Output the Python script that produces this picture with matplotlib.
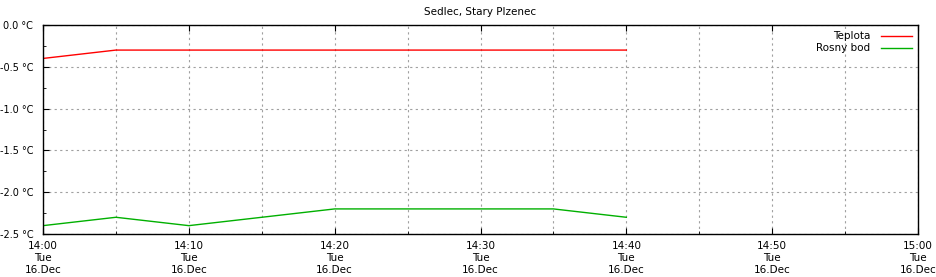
import matplotlib
matplotlib.use('Agg')
import matplotlib.pyplot as plt
import matplotlib.dates as mdates
import pandas as pd

############### DATA ###############
times = pd.date_range('2014-12-16 14:00', '2014-12-16 14:40', freq='5min')
teplota = [-0.4, -0.3, -0.3, -0.3, -0.3, -0.3, -0.3, -0.3, -0.3]
rosny_bod = [-2.4, -2.3, -2.4, -2.3, -2.2, -2.2, -2.2, -2.2, -2.3]
yticks = [0.0, -0.5, -1.0, -1.5, -2.0, -2.5]
ytick_labels = ['%.1f °C' % v for v in yticks]

############### PLOT ###############
fig = plt.figure(figsize=(9.36, 2.77), dpi=100)
ax = fig.add_axes([43/936, 43/277, 875/936, 209/277])

ax.plot(times, teplota, color='#ff0000', lw=1, label='Teplota')
ax.plot(times, rosny_bod, color='#00b000', lw=1, label='Rosny bod')

ax.set_xlim(pd.Timestamp('2014-12-16 14:00'), pd.Timestamp('2014-12-16 15:00'))
ax.set_ylim(-2.5, 0.0)
ax.set_yticks(yticks)
ax.set_yticklabels(ytick_labels)
ax.set_yticks([-0.25, -0.75, -1.25, -1.75, -2.25], minor=True)

ax.xaxis.set_major_locator(mdates.MinuteLocator(byminute=range(0, 60, 10)))
ax.xaxis.set_minor_locator(mdates.MinuteLocator(byminute=range(5, 60, 10)))
ax.xaxis.set_major_formatter(mdates.DateFormatter('%H:%M\n%a\n%d.%b'))

ax.tick_params(which='both', direction='in', labelsize=7.5, top=True, right=False)
ax.tick_params(which='major', length=4, pad=5)
ax.tick_params(which='minor', length=2)
ax.tick_params(axis='x', which='minor', top=False)
ax.tick_params(axis='y', pad=7, labelsize=7)
for lbl in ax.get_xticklabels():
    lbl.set_linespacing(1.25)

ax.grid(True, which='major', color='#a0a0a0', ls=(0, (2, 3)), lw=0.8)
ax.grid(True, which='minor', axis='x', color='#a0a0a0', ls=(0, (2, 3)), lw=0.8)

for s in ax.spines.values():
    s.set_linewidth(1)

ax.set_title('Sedlec, Stary Plzenec', fontsize=7.5, pad=7)
ax.legend(loc='upper right', frameon=False, markerfirst=False, fontsize=7.5,
          handlelength=3, handletextpad=1.0, labelspacing=0.2,
          borderaxespad=0.2, borderpad=0.4)

plt.savefig('out.png', dpi=100)
